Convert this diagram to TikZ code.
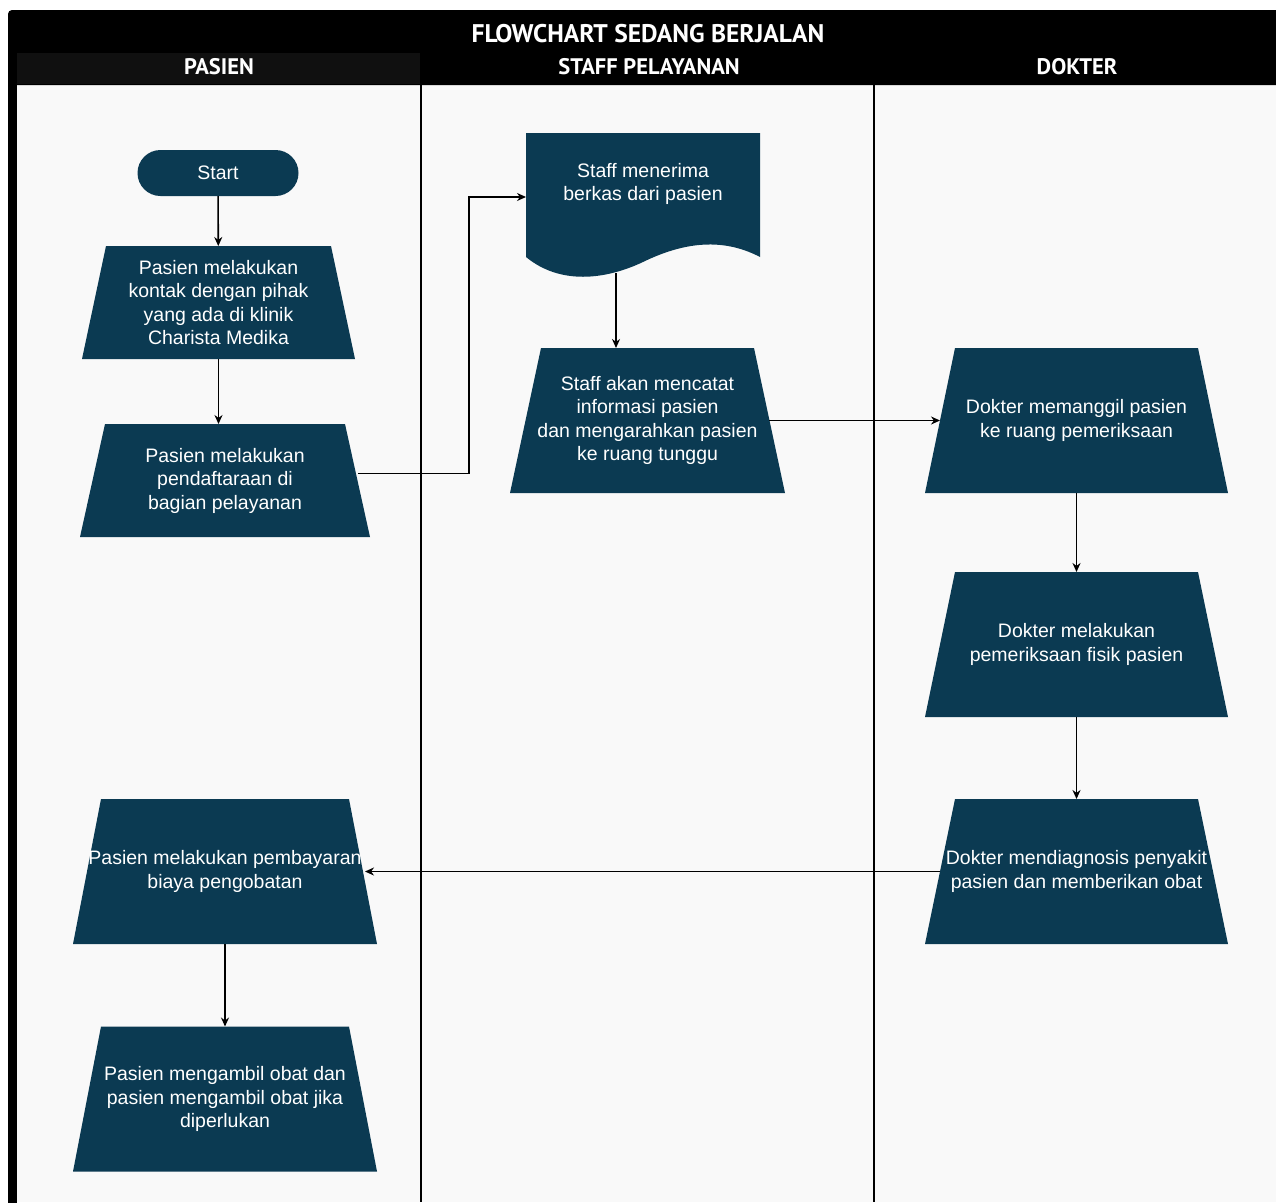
\documentclass[tikz,border=0pt]{standalone}
\usepackage{fontspec}
\setmainfont{Liberation Sans}
\newfontfamily\headfont{PT Sans}
\usetikzlibrary{arrows.meta}

\definecolor{stepfill}{RGB}{11,58,82}
\definecolor{lanebg}{RGB}{249,249,249}
\definecolor{headcell}{RGB}{16,16,16}

\tikzset{
  stepbox/.style={rectangle, inner sep=0pt, outer sep=0pt, minimum height=145pt,
    text=white, align=center, font=\fontsize{19.5}{23.5}\selectfont,
    path picture={\fill[stepfill] (path picture bounding box.south west)
      -- (path picture bounding box.south east)
      -- ([xshift=-#1]path picture bounding box.north east)
      -- ([xshift=#1]path picture bounding box.north west) -- cycle;}},
  stepbox/.default=30pt,
  steptext/.style={text=white, align=center, font=\fontsize{19.5}{23.5}\selectfont},
  headtext/.style={text=white, font=\headfont\bfseries\fontsize{22.5}{26}\selectfont},
  arrow/.style={-{Stealth[length=9pt,width=8pt]}, line width=1.6pt},
}

\begin{document}
\begin{tikzpicture}[x=1pt,y=-1pt]
  \useasboundingbox (0,0) rectangle (1276,1202);

  % lanes and header
  \fill[lanebg] (17,85) rectangle (1276,1202);
  \fill[black, rounded corners=4pt] (8,10) rectangle (1300,85);
  \fill[black] (8,40) rectangle (17,1210);
  \fill[headcell] (17,53) rectangle (420,84);
  \draw[line width=2pt] (421,85) -- (421,1202);
  \draw[line width=2pt] (874,85) -- (874,1202);

  \node[headtext, font=\headfont\bfseries\fontsize{25.5}{28}\selectfont] (title) at (648,34) {FLOWCHART SEDANG BERJALAN};
  \node[headtext] (lane-pasien) at (219,67) {PASIEN};
  \node[headtext] (lane-staff) at (649,67) {STAFF PELAYANAN};
  \node[headtext] (lane-dokter) at (1077,67) {DOKTER};

  % pasien
  \node[fill=stepfill, rounded corners=23pt, minimum width=161pt, minimum height=46pt,
    steptext, outer sep=0pt] (start) at (218,173) {Start};
  \node[stepbox=24pt, minimum width=273pt, minimum height=113pt] (pasien-kontak) at (218.5,302.5)
    {Pasien melakukan\\kontak dengan pihak\\yang ada di klinik\\Charista Medika};
  \node[stepbox=25pt, minimum width=290pt, minimum height=113pt] (pasien-daftar) at (225,480.5)
    {Pasien melakukan\\pendaftaraan di\\bagian pelayanan};
  \node[stepbox=28pt, minimum width=304pt] (pasien-bayar) at (225,871.5)
    {Pasien melakukan pembayaran\\biaya pengobatan};
  \node[stepbox=28pt, minimum width=304pt] (pasien-obat) at (225,1099)
    {Pasien mengambil obat dan\\pasien mengambil obat jika\\diperlukan};

  % staff pelayanan
  \fill[stepfill] (526,133) -- (760,133) -- (760,257)
    .. controls (720,236) and (680,244) .. (643,262)
    .. controls (605,280) and (560,285) .. (526,257) -- cycle;
  \node[minimum width=234pt, minimum height=128pt, inner sep=0pt, outer sep=0pt] (staff-terima) at (643,197) {};
  \node[steptext] (staff-terima-text) at (643,184) {Staff menerima\\berkas dari pasien};
  \coordinate (staff-terima-wave) at (616,273);
  \node[stepbox=31pt, minimum width=275pt] (staff-catat) at (647.5,420.5)
    {Staff akan mencatat\\informasi pasien\\dan mengarahkan pasien\\ke ruang tunggu};

  % dokter
  \node[stepbox, minimum width=303pt] (dokter-panggil) at (1076.5,420.5)
    {Dokter memanggil pasien\\ke ruang pemeriksaan};
  \node[stepbox, minimum width=303pt] (dokter-periksa) at (1076.5,644.5)
    {Dokter melakukan\\pemeriksaan fisik pasien};
  \node[stepbox, minimum width=303pt] (dokter-diagnosa) at (1076.5,871.5)
    {Dokter mendiagnosis penyakit\\pasien dan memberikan obat};

  \draw[arrow] (start) -- (pasien-kontak);
  \draw[arrow] (pasien-kontak.south) -- (pasien-kontak.south |- pasien-daftar.north);
  \draw[arrow] ([xshift=-12pt,yshift=7pt]pasien-daftar.east) -- ++(111,0) |- (staff-terima.west);
  \draw[arrow] (staff-terima-wave) -- (staff-terima-wave |- staff-catat.north);
  \draw[arrow] ([xshift=-16pt]staff-catat.east) -- ([xshift=15pt]dokter-panggil.west);
  \draw[arrow] (dokter-panggil) -- (dokter-periksa);
  \draw[arrow] (dokter-periksa) -- (dokter-diagnosa);
  \draw[arrow] ([xshift=15pt]dokter-diagnosa.west) -- ([xshift=-12pt]pasien-bayar.east);
  \draw[arrow] (pasien-bayar) -- (pasien-obat);
\end{tikzpicture}
\end{document}
